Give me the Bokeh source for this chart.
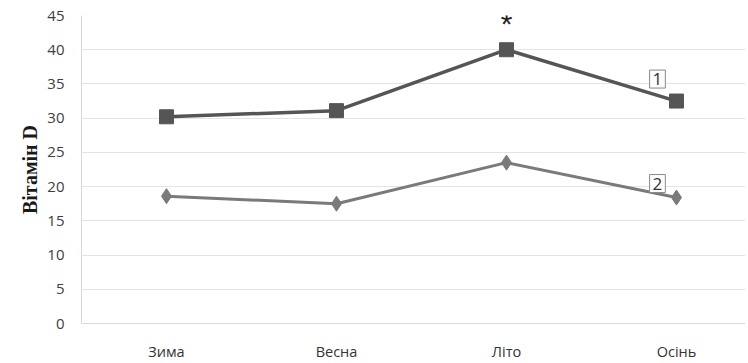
from bokeh.plotting import figure
from bokeh.models import Range1d, Label, FixedTicker
from bokeh.embed import file_html
from bokeh.resources import INLINE

categories = ["Зима", "Весна", "Літо", "Осінь"]
series1 = [30.2, 31.1, 40.0, 32.5]
series2 = [18.6, 17.5, 23.5, 18.4]
y_ticks = [0, 5, 10, 15, 20, 25, 30, 35, 40, 45]
y_label = "Вітамін D"

xs = list(range(len(categories)))

p = figure(width=745, height=363, output_backend="svg", toolbar_location=None,
           x_range=Range1d(-0.5, 3.406), y_range=Range1d(0, 45),
           min_border_left=81, min_border_right=0, min_border_top=15, min_border_bottom=40)
p.outline_line_color = None
p.background_fill_color = "white"

p.xgrid.grid_line_color = None
p.ygrid.grid_line_color = "#e4e4e4"
p.ygrid.grid_line_width = 1
p.yaxis.ticker = FixedTicker(ticks=y_ticks)
p.xaxis.ticker = FixedTicker(ticks=xs)
p.xaxis.major_label_overrides = {i: c for i, c in enumerate(categories)}

for ax in (p.xaxis, p.yaxis):
    ax.axis_line_color = "#d9d9d9"
    ax.major_tick_line_color = None
    ax.minor_tick_line_color = None
    ax.major_label_text_color = "#404040"
    ax.major_label_text_font = "Open Sans"

p.yaxis.major_label_text_font_size = "15px"
p.yaxis.major_label_standoff = 11
p.xaxis.major_label_text_font_size = "14.5px"
p.xaxis.major_label_text_color = "#333333"
p.xaxis.major_label_standoff = 12
p.yaxis.axis_label = y_label
p.yaxis.axis_label_text_font = "Liberation Serif"
p.yaxis.axis_label_text_font_style = "bold"
p.yaxis.axis_label_text_font_size = "20px"
p.yaxis.axis_label_text_color = "#1a1a1a"
p.yaxis.axis_label_standoff = 3

p.line(xs, series1, line_color="#555555", line_width=3.5)
p.scatter(xs, series1, marker="square", size=14, fill_color="#555555", line_color="#555555")
p.line(xs, series2, line_color="#7a7a7a", line_width=3)
p.scatter(xs, series2, marker="diamond", size=15, fill_color="#7a7a7a", line_color="#7a7a7a")

p.add_layout(Label(x=2, y=series1[2], text="*", x_offset=0, y_offset=26,
                   text_align="center", text_baseline="middle",
                   text_font="Liberation Sans", text_font_size="30px", text_color="#222222"))

p.add_layout(Label(x=3, y=series1[3], text="1", x_offset=-19, y_offset=22,
                   text_align="center", text_baseline="middle",
                   text_font="Open Sans", text_font_size="17px", text_color="#333333",
                   border_line_color="#888888", border_line_width=1,
                   background_fill_color="white", padding=3))
p.add_layout(Label(x=3, y=series2[3], text="2", x_offset=-19, y_offset=14,
                   text_align="center", text_baseline="middle",
                   text_font="Open Sans", text_font_size="17px", text_color="#333333",
                   border_line_color="#888888", border_line_width=1,
                   background_fill_color="white", padding=3))

open("out.html", "w").write(file_html(p, INLINE))
